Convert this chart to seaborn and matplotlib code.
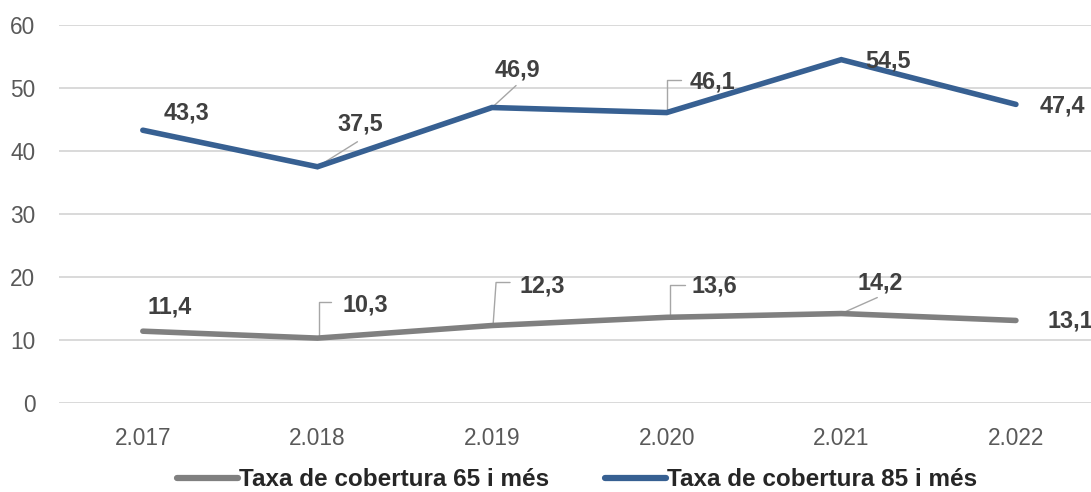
import matplotlib
matplotlib.use("Agg")
import matplotlib.pyplot as plt
from matplotlib.lines import Line2D
import seaborn as sns
import pandas as pd

years = ["2.017", "2.018", "2.019", "2.020", "2.021", "2.022"]
serie_65 = [11.4, 10.3, 12.3, 13.6, 14.2, 13.1]
serie_85 = [43.3, 37.5, 46.9, 46.1, 54.5, 47.4]
name_65 = "Taxa de cobertura 65 i més"
name_85 = "Taxa de cobertura 85 i més"
y_ticks = [0, 10, 20, 30, 40, 50, 60]

df = pd.DataFrame({
    "year": years * 2,
    "value": serie_65 + serie_85,
    "series": [name_65] * len(years) + [name_85] * len(years),
})

GRAY = "#808080"
BLUE = "#376092"
LABEL_C = "#404040"
TICK_C = "#595959"
LEADER_C = "#a6a6a6"

sns.set_theme(style="white")
plt.rcParams["font.family"] = ["Liberation Sans", "DejaVu Sans"]

fig = plt.figure(figsize=(10.91, 4.92), dpi=100)
ax = fig.add_axes([59 / 1091, 1 - 403 / 492, (1091 - 59) / 1091, 378 / 492])

sns.lineplot(data=df, x="year", y="value", hue="series",
             palette={name_65: GRAY, name_85: BLUE},
             linewidth=4.0, legend=False, ax=ax, sort=False)
for ln in ax.lines:
    ln.set_solid_capstyle("round")
    ln.set_solid_joinstyle("miter")
    ln.set_clip_on(False)

ax.set_xlim(-0.48, 5.43)
ax.set_ylim(0, 60)
ax.set_yticks(y_ticks)
ax.set_xlabel("")
ax.set_ylabel("")
ax.grid(axis="y", color="#d9d9d9", linewidth=1.4)
ax.set_axisbelow(True)
for s in ax.spines.values():
    s.set_visible(False)
ax.tick_params(axis="x", length=0, pad=17, labelsize=16.3, labelcolor=TICK_C)
ax.tick_params(axis="y", length=0, pad=17, labelsize=16.3, labelcolor=TICK_C)

# label offsets in pixels (dx, dy, y up) and leader paths relative to point
off_85 = [(44, 17), (43, 43), (25, 38), (46, 31), (47, -1), (46, -2)]
lead_85 = [None, [(0, 0), (40, 25)], [(0, 0), (24, 22)],
           [(0, 0), (0, 33), (14, 33)], None, None]
off_65 = [(27, 24), (48, 33), (50, 40), (48, 31), (39, 31), (54, -1)]
lead_65 = [None, [(2, 0), (2, 36), (14, 36)], [(1, 0), (4, 43), (18, 43)],
           [(3, 0), (3, 32), (18, 32)], [(0, 0), (36, 16)], None]


def put_labels(vals, offs, leads):
    inv = ax.transData.inverted()
    for i, (v, (dx, dy), lead) in enumerate(zip(vals, offs, leads)):
        ax.annotate(f"{v:.1f}".replace(".", ","), xy=(i, v),
                    xytext=(dx * 0.72, dy * 0.72), textcoords="offset points",
                    ha="center", va="center", fontsize=16.8, fontweight="bold",
                    color=LABEL_C, annotation_clip=False)
        if lead:
            base = ax.transData.transform((i, v))
            dpts = [inv.transform((base[0] + lx, base[1] + ly)) for lx, ly in lead]
            ax.plot([p[0] for p in dpts], [p[1] for p in dpts], color=LEADER_C,
                    linewidth=1.0, clip_on=False, zorder=1)


put_labels(serie_85, off_85, lead_85)
put_labels(serie_65, off_65, lead_65)

handles = [Line2D([], [], color=GRAY, linewidth=4.5, solid_capstyle="round"),
           Line2D([], [], color=BLUE, linewidth=4.5, solid_capstyle="round")]
fig.legend(handles, [name_65, name_85], loc="center",
           bbox_to_anchor=(577 / 1091, 1 - 480 / 492), ncol=2, frameon=False,
           prop={"weight": "bold", "size": 17.5}, labelcolor="#262626",
           handlelength=2.5, handletextpad=0.05, columnspacing=2.3)

fig.savefig("out.png", dpi=100)
